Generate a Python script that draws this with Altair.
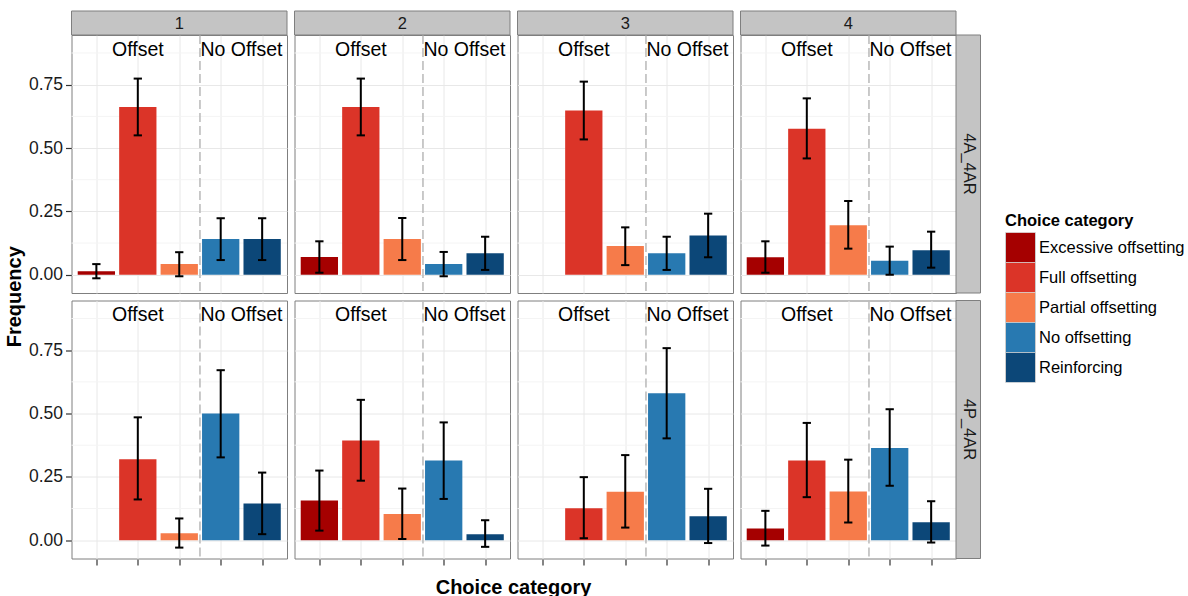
import altair as alt
import pandas as pd

# Choice categories, facet levels and fill colours
categories = ["Excessive offsetting", "Full offsetting", "Partial offsetting",
              "No offsetting", "Reinforcing"]
col_levels = ["1", "2", "3", "4"]
row_levels = ["4A_4AR", "4P_4AR"]
palette = ["#a50000", "#db3428", "#f67b4a", "#2879b1", "#0c4778"]

# Mean frequency per category, one list per column panel (None = no bar)
freq_4A_4AR = [[0.014, 0.662, 0.042, 0.141, 0.141],
               [0.070, 0.662, 0.141, 0.042, 0.085],
               [None, 0.648, 0.113, 0.085, 0.155],
               [0.069, 0.576, 0.195, 0.055, 0.097]]
lower_4A_4AR = [[-0.014, 0.550, -0.006, 0.058, 0.058],
                [0.008, 0.550, 0.058, -0.006, 0.019],
                [None, 0.534, 0.038, 0.019, 0.069],
                [0.008, 0.459, 0.103, 0.000, 0.028]]
upper_4A_4AR = [[0.042, 0.774, 0.089, 0.223, 0.223],
                [0.132, 0.774, 0.224, 0.090, 0.150],
                [None, 0.762, 0.187, 0.150, 0.241],
                [0.132, 0.696, 0.291, 0.111, 0.170]]

freq_4P_4AR = [[None, 0.320, 0.028, 0.500, 0.145],
               [0.157, 0.394, 0.104, 0.315, 0.024],
               [None, 0.126, 0.191, 0.580, 0.095],
               [0.046, 0.315, 0.192, 0.364, 0.071]]
lower_4P_4AR = [[None, 0.161, -0.029, 0.327, 0.024],
                [0.038, 0.235, 0.005, 0.163, -0.026],
                [None, 0.008, 0.050, 0.402, -0.011],
                [-0.021, 0.170, 0.070, 0.215, -0.009]]
upper_4P_4AR = [[None, 0.485, 0.086, 0.671, 0.267],
                [0.275, 0.554, 0.204, 0.465, 0.079],
                [None, 0.249, 0.336, 0.758, 0.203],
                [0.116, 0.463, 0.318, 0.517, 0.154]]

# Group labels and the divider between offsetting and non-offsetting choices
group_labels = ["Offset", "No Offset"]
group_label_pos = [2, 4.5]
group_label_height = 0.864
divider_pos = 3.5
minor_breaks = [0.125, 0.375, 0.625, 0.875]
x_title = "Choice category"
y_title = "Frequency"

series = {
    "4A_4AR": (freq_4A_4AR, lower_4A_4AR, upper_4A_4AR),
    "4P_4AR": (freq_4P_4AR, lower_4P_4AR, upper_4P_4AR),
}

# One long table: bars, minor grid lines, group labels, strips and titles per panel
records = []
for r_i, r in enumerate(row_levels):
    f, lo, hi = series[r]
    for c_i, c in enumerate(col_levels):
        for k, cat in enumerate(categories):
            if f[c_i][k] is not None:
                records.append({"row": r, "col": c, "kind": "bar", "cat": cat,
                                "idx": k + 1, "value": f[c_i][k],
                                "lo": lo[c_i][k], "hi": hi[c_i][k]})
        for v in minor_breaks:
            records.append({"row": r, "col": c, "kind": "minor", "v": v})
        for lab, p in zip(group_labels, group_label_pos):
            records.append({"row": r, "col": c, "kind": "label", "label": lab, "pos": p})
        if r_i == 0:
            records.append({"row": r, "col": c, "kind": "colstrip", "label": c})
        if c_i == len(col_levels) - 1:
            records.append({"row": r, "col": c, "kind": "rowstrip", "label": r})
        if r_i == 0 and c_i == 0:
            records.append({"row": r, "col": c, "kind": "ytitle", "label": y_title})
        if r_i == 1 and c_i == 1:
            records.append({"row": r, "col": c, "kind": "xtitle", "label": x_title})
df = pd.DataFrame(records)

W, H = 215.5, 258
STRIP = 24
ROW_GAP, COL_GAP = 7.5, 7
FONT = "Liberation Sans"

xs = alt.Scale(domain=[0.4, 5.6], nice=False, zero=False)
ys = alt.Scale(domain=[-0.072, 0.946], nice=False, zero=False)

x_axis = alt.Axis(values=[1, 2, 3, 4, 5], labels=False, ticks=True, tickSize=6,
                  tickWidth=1.2, tickColor="#333333", domain=False, grid=True,
                  gridColor="#e8e8e8", gridWidth=1, title=None)
y_axis = alt.Axis(values=[0, 0.25, 0.5, 0.75], format=".2f", tickSize=6, tickWidth=1.2,
                  tickColor="#333333", labelFontSize=17.5, labelColor="#1a1a1a",
                  labelFont=FONT, labelPadding=3, domain=False, grid=True,
                  gridColor="#e8e8e8", gridWidth=1, title=None)


def X(f):
    return alt.X(f, type="quantitative", scale=xs, axis=x_axis)


def Y(f):
    return alt.Y(f, type="quantitative", scale=ys, axis=y_axis)


legend = alt.Legend(title="Choice category", orient="none", legendX=933.5, legendY=178,
                    symbolType="square", symbolSize=900, symbolStrokeColor="#cccccc",
                    symbolStrokeWidth=1, rowPadding=0, clipHeight=30,
                    labelFontSize=16.5, titleFontSize=16.5, titleFontWeight="bold",
                    labelOffset=3, titlePadding=3, symbolOpacity=1,
                    labelColor="#000000", titleColor="#000000",
                    labelFont=FONT, titleFont=FONT)
color = alt.Color("cat:N", scale=alt.Scale(domain=categories, range=palette),
                  legend=legend)

base = alt.Chart()
bars_base = base.transform_filter("datum.kind == 'bar'").transform_calculate(
    x0="datum.idx - 0.45", x1="datum.idx + 0.45",
    c0="datum.idx - 0.1", c1="datum.idx + 0.1", zero="0")

minor = base.transform_filter("datum.kind == 'minor'").mark_rule(
    color="#f4f4f4", strokeWidth=1).encode(y=Y("v"))
bars = bars_base.mark_bar().encode(x=X("x0"), x2="x1", y=Y("value"), y2="zero",
                                   color=color)
stems = bars_base.mark_rule(color="black", strokeWidth=2).encode(
    x=X("idx"), y=Y("lo"), y2="hi")
cap_lo = bars_base.mark_rule(color="black", strokeWidth=2).encode(
    x=X("c0"), x2="c1", y=Y("lo"))
cap_hi = bars_base.mark_rule(color="black", strokeWidth=2).encode(
    x=X("c0"), x2="c1", y=Y("hi"))
divider = base.transform_filter(
    f"datum.kind == 'label' && datum.label == '{group_labels[0]}'"
).mark_rule(color="#bdbdbd", strokeWidth=1.6, strokeDash=[9, 4]).encode(
    x=alt.X(datum=divider_pos, type="quantitative", scale=xs, axis=x_axis))
text = base.transform_filter("datum.kind == 'label'").mark_text(
    fontSize=19.5, font=FONT, color="#000000", baseline="alphabetic").encode(
    x=X("pos"),
    y=alt.Y(datum=group_label_height, type="quantitative", scale=ys, axis=y_axis),
    text="label:N")

# Grey strips above the top row and right of the last column
colstrip_bg = base.transform_filter("datum.kind == 'colstrip'").mark_rect(
    fill="#c4c4c4", stroke="#7f7f7f", strokeWidth=1).encode(
    x=alt.value(0), x2=alt.value(W), y=alt.value(-STRIP), y2=alt.value(0))
colstrip_tx = base.transform_filter("datum.kind == 'colstrip'").mark_text(
    fontSize=16.5, font=FONT, color="#1a1a1a", baseline="middle").encode(
    x=alt.value(W / 2), y=alt.value(-STRIP / 2 + 0.5), text="label:N")
rowstrip_bg = base.transform_filter("datum.kind == 'rowstrip'").mark_rect(
    fill="#c4c4c4", stroke="#7f7f7f", strokeWidth=1).encode(
    x=alt.value(W), x2=alt.value(W + STRIP + 0.5), y=alt.value(0), y2=alt.value(H))
rowstrip_tx = base.transform_filter("datum.kind == 'rowstrip'").mark_text(
    fontSize=16.5, font=FONT, color="#1a1a1a", baseline="middle", angle=90).encode(
    x=alt.value(W + STRIP / 2 + 0.5), y=alt.value(H / 2), text="label:N")

# Axis titles centred on the whole grid of panels
ytitle = base.transform_filter("datum.kind == 'ytitle'").mark_text(
    fontSize=20, font=FONT, fontWeight="bold", color="#000000", angle=270,
    baseline="alphabetic", align="center").encode(
    x=alt.value(-51), y=alt.value(H + ROW_GAP / 2), text="label:N")
xtitle = base.transform_filter("datum.kind == 'xtitle'").mark_text(
    fontSize=20, font=FONT, fontWeight="bold", color="#000000",
    baseline="alphabetic", align="center").encode(
    x=alt.value(W + COL_GAP / 2), y=alt.value(H + 35), text="label:N")

layered = alt.layer(minor, bars, stems, cap_lo, cap_hi, divider, text,
                    colstrip_bg, colstrip_tx, rowstrip_bg, rowstrip_tx,
                    ytitle, xtitle).properties(width=W, height=H)

chart = layered.facet(
    data=df,
    row=alt.Row("row:N", sort=row_levels, header=alt.Header(labels=False, title=None)),
    column=alt.Column("col:N", sort=col_levels,
                      header=alt.Header(labels=False, title=None)),
    spacing={"row": ROW_GAP, "column": COL_GAP},
    bounds="flush",
).properties(
    padding={"left": 3.5, "top": 10, "right": 0, "bottom": 0},
    background="white",
).configure(font=FONT).configure_view(stroke="#7f7f7f", strokeWidth=1)

chart.save("out.html", embed_options={"renderer": "svg", "actions": False})
